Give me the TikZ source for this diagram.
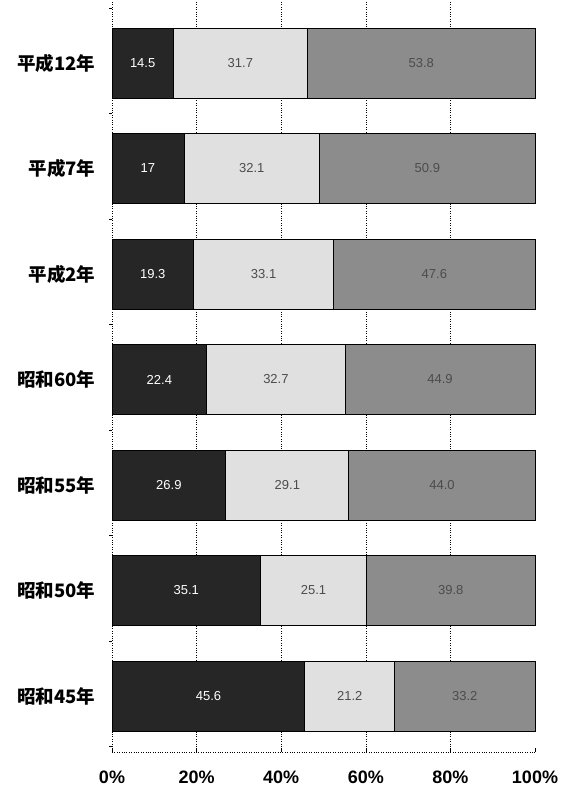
\documentclass[tikz,border=0pt]{standalone}
\usepackage{fontspec}
\setmainfont{Liberation Sans}
\newfontfamily\jpfont{Noto Sans CJK JP}
\begin{document}
\begin{tikzpicture}[x=1pt,y=-1pt,
    segdark/.style={fill=black!85,draw=black,line width=0.8pt},
    seglight/.style={fill=black!12,draw=black,line width=0.8pt},
    segmid/.style={fill=black!45,draw=black,line width=0.8pt},
    valdark/.style={text=white,font=\fontsize{13}{13}\selectfont},
    vallight/.style={text=black!70,font=\fontsize{13}{13}\selectfont},
    rowlabel/.style={anchor=east,font=\jpfont\bfseries\fontsize{18.5}{18.5}\selectfont},
    pctlabel/.style={font=\bfseries\fontsize{18}{18}\selectfont}]
    \useasboundingbox (0,0) rectangle (562,800);
    \edef \xo {112};
    \edef \w {4.23};

    % grid
    \foreach \p in {20,40,60,80}
        {
            \draw[dotted] (\xo+\w*\p, 2) -- (\xo+\w*\p, 752);
        }
    \draw[dotted] (\xo, 2) -- (\xo, 752);
    \draw[dotted] (\xo, 752) -- (\xo+\w*100, 752);
    \foreach \p in {0,20,...,100}
        {
            \draw (\xo+\w*\p, 748) -- (\xo+\w*\p, 752);
        }
    \foreach \r in {0,...,7}
        {
            \draw (\xo-3, 8+105.5*\r) -- (\xo, 8+105.5*\r);
        }

    % bars
    \foreach \r / \name / \a / \b / \c in {0/平成12年/14.5/31.7/53.8, 1/平成7年/17/32.1/50.9,
        2/平成2年/19.3/33.1/47.6, 3/昭和60年/22.4/32.7/44.9, 4/昭和55年/26.9/29.1/44.0,
        5/昭和50年/35.1/25.1/39.8, 6/昭和45年/45.6/21.2/33.2}
        {
            \pgfmathsetmacro \yt {28+105.5*\r}
            \pgfmathsetmacro \xa {\xo+\w*\a}
            \pgfmathsetmacro \xb {\xo+\w*(\a+\b)}
            \pgfmathsetmacro \xc {\xo+\w*100}
            \draw[segdark] (\xo, \yt) rectangle (\xa, \yt+70);
            \draw[seglight] (\xa, \yt) rectangle (\xb, \yt+70);
            \draw[segmid] (\xb, \yt) rectangle (\xc, \yt+70);
            \node[valdark] (va\r) at ({(\xo+\xa)/2}, \yt+35) {\a};
            \node[vallight] (vb\r) at ({(\xa+\xb)/2}, \yt+35) {\b};
            \node[vallight] (vc\r) at ({(\xb+\xc)/2}, \yt+35) {\c};
            \node[rowlabel] (row\r) at (99, \yt+35) {\name};
        }

    % axis labels
    \foreach \p in {0,20,...,80}
        {
            \node[pctlabel] (pct\p) at (\xo+\w*\p, 777) {\p\%};
        }
    \node[pctlabel] (pct100) at (535, 777) {100\%};
\end{tikzpicture}
\end{document}
